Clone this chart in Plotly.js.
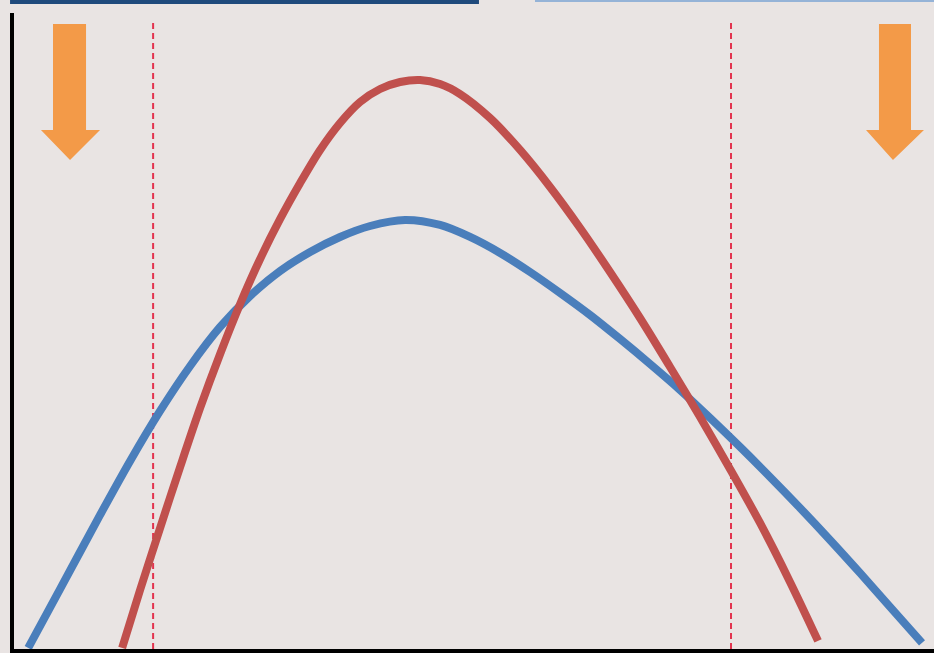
<!DOCTYPE html>
<html>
<head>
<meta charset="utf-8">
<script src="https://cdn.plot.ly/plotly-3.0.1.min.js"></script>
<style>html,body{margin:0;padding:0;background:#e9e4e3;}#chart{width:934px;height:653px;}</style>
</head>
<body>
<div id="chart"></div>
<script>
// Blue curve (wider, lower peak)
const blueX = [1.74, 5.21, 9.54, 12.80, 16.05, 19.31, 22.56, 25.81, 29.07, 32.32, 35.57, 38.83, 42.62, 46.42, 49.67, 52.93, 56.18, 59.44, 62.69, 65.94, 69.20, 72.45, 75.70, 78.96, 82.21, 85.47, 88.72, 91.97, 95.23, 98.70];
const blueY = [0.47, 9.72, 21.32, 29.78, 37.62, 44.67, 50.78, 55.64, 59.56, 62.54, 64.89, 66.61, 67.55, 66.77, 64.89, 62.38, 59.40, 56.11, 52.66, 48.90, 44.98, 40.91, 36.52, 31.97, 27.27, 22.41, 17.40, 12.23, 6.90, 1.25];
// Red curve (narrower, higher peak)
const redX = [11.93, 13.88, 16.05, 18.22, 20.39, 22.56, 24.73, 26.90, 29.07, 31.24, 33.41, 35.57, 37.74, 39.91, 42.08, 44.25, 46.42, 48.59, 51.84, 55.10, 58.35, 61.61, 64.86, 68.11, 71.37, 74.62, 77.87, 81.13, 84.38, 87.42];
const redY = [0.47, 9.56, 19.28, 28.84, 38.09, 46.55, 54.39, 61.44, 67.71, 73.35, 78.53, 82.76, 86.05, 88.09, 89.18, 89.50, 88.87, 87.30, 83.54, 78.53, 72.73, 66.30, 59.40, 52.19, 44.51, 36.68, 28.53, 20.06, 10.82, 1.57];
// Limits (dashed vertical lines)
const limitX = [15.29, 77.98];
const limitTop = 98.6;
const limitBottom = 0.3;

const traces = [];
limitX.forEach(function (lx) {
  traces.push({
    x: [lx, lx], y: [limitBottom, limitTop], mode: 'lines', type: 'scatter',
    line: {color: '#e2344f', width: 2, dash: '6px,4px'}, hoverinfo: 'skip', showlegend: false
  });
});
traces.push({x: blueX, y: blueY, mode: 'lines', type: 'scatter',
  line: {color: '#4a7ebb', width: 8, shape: 'spline', smoothing: 0.9}, showlegend: false});
traces.push({x: redX, y: redY, mode: 'lines', type: 'scatter',
  line: {color: '#c0504d', width: 8, shape: 'spline', smoothing: 0.9}, showlegend: false});

const orange = '#f39a48';
function arrowPath(xl, xr, hl, hr, tip, top, neck, bot) {
  return 'M ' + xl + ' ' + top + ' L ' + xr + ' ' + top + ' L ' + xr + ' ' + neck +
    ' L ' + hr + ' ' + neck + ' L ' + tip + ' ' + bot + ' L ' + hl + ' ' + neck +
    ' L ' + xl + ' ' + neck + ' Z';
}

const layout = {
  width: 934, height: 653,
  margin: {l: 14, r: 0, t: 13, b: 4, pad: 0},
  paper_bgcolor: '#e9e4e3', plot_bgcolor: '#e9e4e3',
  showlegend: false,
  xaxis: {range: [0.2, 100], showgrid: false, zeroline: false, showticklabels: false, ticks: '',
    showline: true, linecolor: '#000000', linewidth: 4},
  yaxis: {range: [0.3, 100], showgrid: false, zeroline: false, showticklabels: false, ticks: '',
    showline: true, linecolor: '#000000', linewidth: 4},
  shapes: [
    {type: 'rect', xref: 'paper', yref: 'paper', x0: -0.0043, x1: 0.5054, y0: 1.0142, y1: 1.03,
      fillcolor: '#1f4a7c', line: {width: 0}},
    {type: 'rect', xref: 'paper', yref: 'paper', x0: 0.5663, x1: 1.0, y0: 1.0173, y1: 1.03,
      fillcolor: '#95b3d7', line: {width: 0}},
    {type: 'path', xref: 'paper', yref: 'paper',
      path: arrowPath(0.0424, 0.0783, 0.0293, 0.0935, 0.0609, 0.9827, 0.8160, 0.7689),
      fillcolor: orange, line: {width: 0}},
    {type: 'path', xref: 'paper', yref: 'paper',
      path: arrowPath(0.9402, 0.9750, 0.9261, 0.9891, 0.9554, 0.9827, 0.8160, 0.7689),
      fillcolor: orange, line: {width: 0}}
  ]
};

Plotly.newPlot('chart', traces, layout, {displayModeBar: false, staticPlot: true});
</script>
</body>
</html>
